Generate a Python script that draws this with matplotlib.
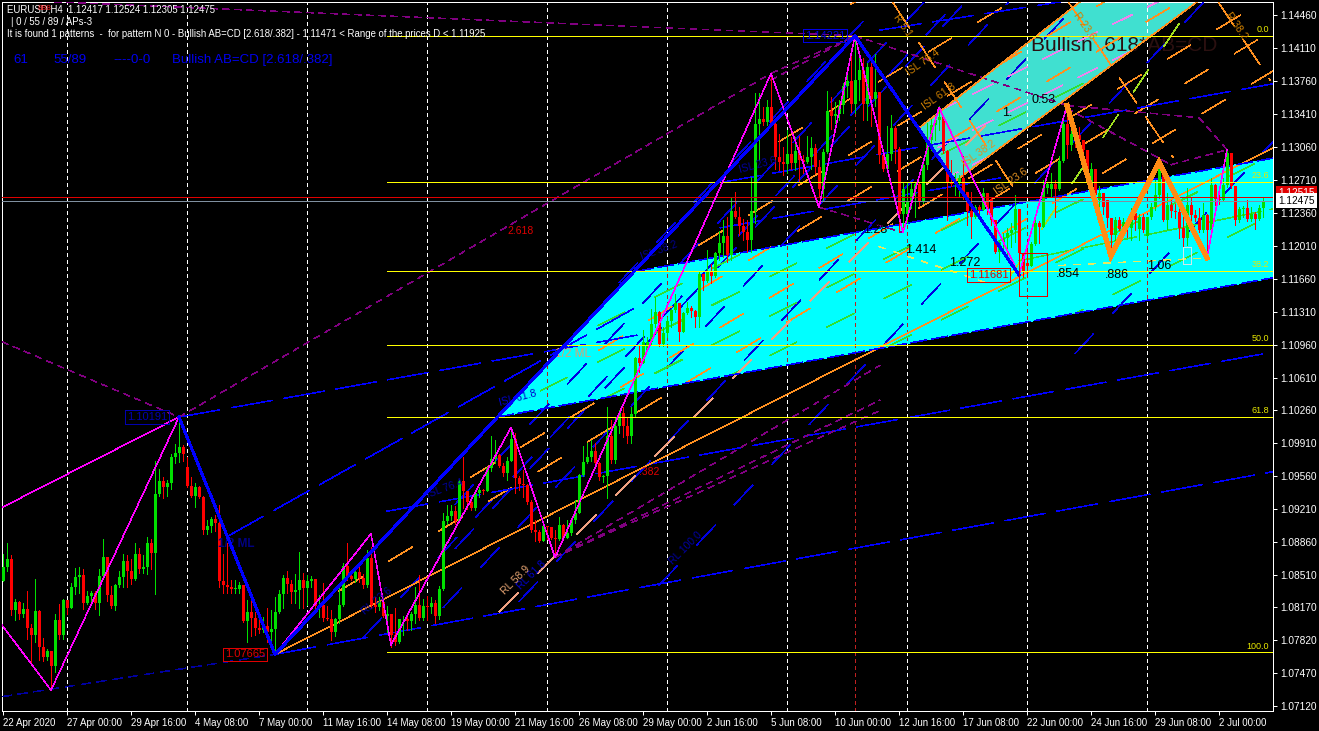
import numpy as np
import matplotlib
matplotlib.use('Agg')
import matplotlib.pyplot as plt
from matplotlib.path import Path
from matplotlib.patches import Polygon, Rectangle

# pips above 1.0700, one row per ten H4 bars
BASE = 1.07
closes_pips = [160,168,114,123,110,115,95,87,113,75,
64,71,55,103,87,125,116,139,149,151,
121,129,132,121,150,170,130,118,141,149,
166,156,147,174,158,160,185,175,237,251,
245,249,277,281,287,280,246,235,245,234,
199,203,211,206,145,141,138,136,136,141,
102,112,106,95,93,97,91,94,112,131,
148,142,133,135,146,137,145,147,118,119,
106,105,91,104,119,161,150,147,154,148,
141,169,119,117,123,108,110,87,80,104,
104,102,110,119,106,118,117,121,108,136,
209,214,219,209,251,241,229,222,238,242,
241,265,275,279,267,260,272,296,254,248,
247,229,199,197,187,203,202,191,189,204,
191,196,210,217,257,271,277,283,270,255,
256,299,273,309,323,309,299,322,382,376,
399,399,418,431,397,408,421,433,440,409,
430,435,432,425,471,464,473,469,493,504,
511,491,538,532,522,516,507,538,630,636,
632,648,630,595,590,588,598,589,602,592,
590,595,605,585,561,601,644,639,641,651,
671,676,652,677,688,652,691,657,664,597,
582,598,626,604,535,561,548,561,567,548,
587,613,629,635,638,602,568,567,569,573,
558,538,531,542,539,557,540,528,494,505,
509,515,518,540,493,474,480,503,525,521,
562,567,567,561,591,630,608,620,619,613,
603,581,583,555,557,542,530,512,528,519,
526,520,530,528,532,518,531,542,555,583,
528,544,538,537,520,509,544,534,530,518,
534,518,566,551,550,565,599,564,528,540,
541,529,535,529,541,548]
highs_pips = [174,185,172,126,124,122,134,99,147,114,
84,73,71,110,120,126,125,143,159,160,
158,134,134,134,158,189,170,140,142,155,
174,173,168,185,180,172,192,189,272,264,
255,252,280,290,319,289,277,255,249,246,
235,210,213,215,226,174,185,146,146,144,
141,125,126,112,103,107,116,114,128,135,
151,155,146,152,176,153,151,150,146,130,
143,118,114,106,137,164,185,156,156,160,
152,178,181,128,128,125,118,110,116,105,
108,107,112,139,151,126,129,128,125,140,
217,226,226,225,252,277,240,231,240,245,
243,266,299,295,280,270,277,308,302,256,
263,248,231,210,199,203,203,202,199,213,
205,210,212,231,259,288,291,295,291,271,
257,330,316,319,327,330,319,330,383,394,
412,404,434,447,432,415,425,434,450,440,
431,441,437,433,473,471,496,482,494,517,
528,532,553,558,542,529,528,574,663,663,
648,656,684,631,620,606,624,617,617,618,
597,618,617,609,592,604,665,659,654,656,
674,689,709,724,700,700,695,695,705,664,
598,628,640,628,606,569,568,569,569,568,
589,631,636,640,649,640,603,592,578,576,
596,558,558,544,544,562,557,553,528,507,
515,520,525,555,539,493,496,505,532,527,
571,569,578,571,596,635,649,624,622,627,
613,603,589,581,564,557,550,530,532,532,
530,530,541,539,535,535,532,546,571,587,
583,557,550,545,542,535,562,553,539,541,
546,535,573,567,560,573,603,599,564,542,
543,550,542,537,544,553]
lows_pips = [145,156,109,103,104,107,83,56,80,61,
60,61,29,48,83,83,110,116,131,132,
115,120,120,115,109,148,124,116,114,138,
138,139,142,146,153,153,152,158,131,235,
233,235,243,270,271,272,245,234,223,233,
195,195,197,198,139,132,132,132,132,132,
101,80,86,88,90,91,80,82,71,111,
116,132,121,121,116,116,119,139,114,107,
102,103,82,86,100,118,146,146,144,144,
137,139,116,112,114,107,91,75,77,79,
88,93,93,100,103,103,103,111,100,105,
135,205,210,205,209,222,221,220,220,234,
237,240,262,270,266,256,252,272,238,242,
234,227,197,187,186,187,190,190,171,188,
189,191,194,207,217,256,270,272,268,252,
250,233,270,270,302,298,291,292,319,367,
376,389,397,415,395,395,404,415,431,400,
409,429,425,415,415,454,463,461,468,486,
489,484,486,530,512,507,494,494,525,592,
629,629,629,583,581,576,578,583,581,569,
578,589,583,578,553,548,599,625,631,635,
642,659,643,642,656,635,635,628,649,589,
580,580,592,589,516,516,525,541,532,543,
546,583,603,613,624,599,528,564,555,553,
551,523,509,530,535,539,535,523,493,484,
495,490,500,505,468,468,468,479,502,504,
521,557,553,532,560,590,594,603,606,596,
596,574,562,550,539,535,521,500,507,518,
514,510,507,518,507,516,509,529,539,552,
527,519,532,530,509,500,502,525,527,516,
516,491,518,544,545,550,563,562,523,526,
532,527,527,519,528,531]
first_open_pips = 145
# bars whose open is not the previous close
gap_opens = {46:266, 161:390, 226:535, 247:551, 256:483, 262:561, 272:564,
             274:550, 276:550, 283:536, 284:519, 286:511}

time_labels = ['22 Apr 2020','27 Apr 00:00','29 Apr 16:00','4 May 08:00','7 May 00:00',
               '11 May 16:00','14 May 08:00','19 May 00:00','21 May 16:00','26 May 08:00',
               '29 May 00:00','2 Jun 16:00','5 Jun 08:00','10 Jun 00:00','12 Jun 16:00',
               '17 Jun 08:00','22 Jun 00:00','24 Jun 16:00','29 Jun 08:00','2 Jul 00:00']
price_ticks = [1.14460,1.14110,1.13760,1.13410,1.13060,1.12710,1.12360,1.12010,1.11660,1.11310,
               1.10960,1.10610,1.10260,1.09910,1.09560,1.09210,1.08860,1.08510,1.08170,1.07820,
               1.07470,1.07120]
separator_bars = [16,46,76,106,136,166,196,226,256,286]

# zigzag pivots (bar, price)
zigzag_bars = [-0.25,12,44,68,92,97,127,138,192,204,213,225,234,254,266]
zigzag_prices = [1.0798,1.0729,1.1019,1.0767,1.0895,1.0777,1.1008,1.0870,1.1384,1.1242,1.1424,1.1215,1.1348,1.1170,1.1350]
abcd_bars = [44,68,213,254]
abcd_prices = [1.1019,1.0767,1.1424,1.1170]
cd_bars = [266,277,289,301]
cd_prices = [1.1350,1.1190,1.1290,1.1188]
last_leg_bars = [301,306]
last_leg_prices = [1.1188,1.1303]

fib_levels = [1.1424,1.1269,1.1174,1.1096,1.1019,1.0769]
fib_names = ['0.0','23.6','38.2','50.0','61.8','100.0']
bid, ask = 1.1249, 1.1253

cyan_bars = [158.5,317.5,317.5,123.5]
cyan_prices = [1.1174,1.1294,1.1167,1.1019]
teal_bars = [229.25,269.25,298.5,238.5]
teal_prices = [1.1327,1.1460,1.1460,1.1271]

# parallel families: price at bar 0, first bar drawn
steep_levels = [1.0461,1.0412,1.0365,1.0316,1.0236,1.0094,0.9867,1.0375]
steep_starts = [154,113,113,110,129,164,268,90]
steep_slope = 0.000455
orange_levels = [1.0917,1.0817,1.0758,1.0710,1.0657,1.0620,1.0577]
orange_starts = [212,194,174,149,117,84,250]
orange_slope = 0.000255
green_levels = [1.0801,1.0762,1.0720,1.0678,1.0625,1.0561]
green_slope = 0.000212
violet_levels = [1.0848,1.0810,1.0773]

# single trend lines: bar0, price0, bar1, price1
purple_lines = [(13,1.1460,213,1.1424),(-0.25,1.1099,44,1.1019),(44,1.1019,192,1.1384),
                (192,1.1384,213,1.1424),(192,1.1377,213,1.1424),(213,1.1424,266,1.1350),
                (204,1.1242,225,1.1215),(266,1.1350,299,1.1337),(299,1.1337,306,1.1303),
                (266,1.1347,292,1.1287),(292,1.1287,306,1.1303),(138,1.0870,219.25,1.1026),
                (138,1.0870,219.25,1.1037),(138,1.0870,219.25,1.1074)]
blue_lines = [(68,1.0767,317.5,1.0961),(96,1.0919,317.5,1.1088),(44,1.1019,158.5,1.1106),
              (179.25,1.1268,317.5,1.1373),(179.25,1.1220,249.25,1.1273),(219.25,1.1430,264.25,1.1460),
              (56,1.0892,159.25,1.1138)]
navy_line = (-0.25,1.0722,68,1.0767)
orange_solid = (68,1.0767,317.5,1.1305)
salmon_line = (124,1.0812,249,1.1343)
cross_lines = [(222.5,1.1459,253.5,1.1257),(266,1.1462,292.5,1.1295),(303.5,1.1462,316.75,1.1377)]
lime_steep = (252,1.1170,298,1.1462)
lime_long = (254,1.1185,317.5,1.1240)
yellow_dash = [(219,1.1200,247,1.1160),(264,1.1180,301,1.1188)]

# rotated study labels: bar, price, text, angle, colour
study_labels = [(124,1.1034,'ISL 61.8',15,'#0000cd'),(106,1.0936,'ISL 76.4',20,'#0000a0'),
                (184,1.1281,'ISL 23.6',15,'#0000a0'),(159.5,1.1189,'ISL 38.2',20,'#000090'),
                (90,1.0811,'RL 23.6',40,'#0000a0'),(129,1.0838,'RL 61.8',45,'#0000cd'),
                (125,1.0832,'RL 58.9',45,'#e0a070'),(167,1.0864,'RL 100.0',45,'#0000a0'),
                (226,1.1384,'ISL 76.4',35,'#d08000'),(230,1.1348,'ISL 61.8',35,'#d08000'),
                (240,1.1287,'ISL 38.2',35,'#e09020'),(248,1.1257,'ISL 23.6',35,'#e09020'),
                (268,1.1448,'R 23.6',-55,'#d08000'),(306,1.1448,'R 38.2',-55,'#d08000'),
                (223,1.1446,'R 5.1',-55,'#d08000')]
ratio_labels = [(249.75,1.1342,'1.'),(257,1.1356,'0.53'),(225.5,1.1196,'1.414'),(236.5,1.1183,'1.272'),
                (263.25,1.1171,'.854'),(275.5,1.1170,'.886'),(286,1.1180,'1.06'),(215,1.1218,'1.28')]

closes = BASE + np.array(closes_pips) / 10000
highs = BASE + np.array(highs_pips) / 10000
lows = BASE + np.array(lows_pips) / 10000
opens = np.r_[BASE + first_open_pips / 10000, closes[:-1]]
for bar, pips in gap_opens.items():
    opens[bar] = BASE + pips / 10000
bars = np.arange(len(closes))

plt.rcParams['lines.scale_dashes'] = False
plt.rcParams['lines.antialiased'] = False
plt.rcParams['patch.antialiased'] = False
plt.rcParams['font.family'] = ['Liberation Sans', 'DejaVu Sans']

fig = plt.figure(figsize=(13.19, 7.31), dpi=100, facecolor='black')
ax = fig.add_axes([2/1319, 20/731, 1271/1319, 709/731], facecolor='black')
ax.set_xlim(-0.25, 317.5)
ax.set_ylim(1.07068, 1.14599)

PX = 0.72  # one screen pixel in points, for level lines
THIN = 0.34  # agg rounds aliased widths up, this gives half a pixel on diagonals

cyan_xy = np.column_stack([cyan_bars, cyan_prices])
teal_xy = np.column_stack([teal_bars, teal_prices])
ax.add_patch(Polygon(cyan_xy, closed=True, facecolor='#00ffff', edgecolor='none', zorder=1))
ax.add_patch(Polygon(teal_xy, closed=True, facecolor='#40e0d0', edgecolor='none', zorder=1))
cyan_path = Path(np.vstack([cyan_xy, cyan_xy[:1]]), closed=True)
teal_path = Path(np.vstack([teal_xy, teal_xy[:1]]), closed=True)
both_path = Path.make_compound_path(cyan_path, teal_path)


def trend(seg, color, dashes=None, lw=THIN, z=3, clip=None):
    line, = ax.plot([seg[0], seg[2]], [seg[1], seg[3]], color=color, lw=lw, zorder=z)
    if dashes:
        line.set_dashes(dashes)
    if clip is not None:
        line.set_clip_path(clip, transform=ax.transData)
    return line


# steep and shallow parallels
for level, start in zip(steep_levels, steep_starts):
    trend((start, level + steep_slope*start, 317.5, level + steep_slope*317.5), '#0000e0', (20, 20))
for level, start in zip(orange_levels, orange_starts):
    trend((start, level + orange_slope*start, 317.5, level + orange_slope*317.5), '#ff9020', (20, 22))
for level in green_levels:
    trend((120, level + green_slope*120, 317.5, level + green_slope*317.5), '#30e030', (22, 24), clip=both_path)
for level in violet_levels:
    trend((225, level + green_slope*225, 300, level + green_slope*300), '#ee82ee', (16, 12), clip=teal_path)

for seg in blue_lines:
    trend(seg, '#0000ff', (30, 8))
trend(navy_line, '#0000a0', (7, 5))
for seg in purple_lines:
    trend(seg, '#800080', (5, 4))
trend(salmon_line, '#f0a080', (20, 20))
for seg in cross_lines:
    trend(seg, '#ff9020', (22, 12))
trend(lime_steep, '#a0e020', (20, 20))
trend(lime_long, '#30e030', (40, 6))
for seg in yellow_dash:
    trend(seg, '#e8e860', (5, 6))
trend(orange_solid, '#ff9020')

# teal and cyan edges
trend((teal_bars[0], teal_prices[0], teal_bars[1], teal_prices[1]), '#ff9020')
trend((teal_bars[3], teal_prices[3], teal_bars[2], teal_prices[2]), '#ff9020')
trend((cyan_bars[0], cyan_prices[0], cyan_bars[1], cyan_prices[1]), '#0000ff', (12, 3))
trend((cyan_bars[3], cyan_prices[3], cyan_bars[2], cyan_prices[2]), '#0000ff', (12, 3))

# period separators
for bar in separator_bars:
    trend((bar, 1.07068, bar, 1.14599), 'white', (2.2, 2.2), lw=PX, z=2.5)
    trend((bar, 1.07068, bar, 1.14599), '#b02020', (2.2, 2.2), lw=PX, z=2.6, clip=cyan_path)
trend((213, 1.07068, 213, 1.1424), '#c02020', (2.5, 2.5), lw=PX, z=2.6)

# candles
up = closes >= opens
ax.vlines(bars[up], lows[up], highs[up], color='#00e000', lw=PX, zorder=4)
ax.vlines(bars[~up], lows[~up], highs[~up], color='#ff0000', lw=PX, zorder=4)
body_low = np.minimum(opens, closes)
body_h = np.maximum(np.abs(closes - opens), 0.0001)
ax.bar(bars[up], body_h[up], bottom=body_low[up], width=0.75, color='#00e000', zorder=4.1)
ax.bar(bars[~up], body_h[~up], bottom=body_low[~up], width=0.75, color='#ff0000', zorder=4.1)

# fib levels, bid and ask
for level, name in zip(fib_levels, fib_names):
    ax.plot([96, 317.5], [level, level], color='#ffff00', lw=PX, zorder=5)
    ax.text(316.5, level + 0.0002, name, color='#e8e800', fontsize=6.5, ha='right', va='bottom', zorder=6)
ax.axhline(ask, color='#e00000', lw=PX, zorder=5)
ax.axhline(bid, color='#8090a0', lw=PX, zorder=5)

# zigzags
ax.plot(zigzag_bars, zigzag_prices, color='#ff00ff', lw=THIN, zorder=6)
ax.plot([-0.25, 44], [1.0923, 1.1019], color='#ff00ff', lw=THIN, zorder=6)
ax.plot(last_leg_bars, last_leg_prices, color='#ff00ff', lw=THIN, zorder=6)
ax.plot(abcd_bars, abcd_prices, color='#0000ff', lw=1.45, zorder=7)
ax.plot(cd_bars, cd_prices, color='#ff8c14', lw=3.0, zorder=7, solid_joinstyle='miter')

ax.add_patch(Rectangle((254, 1.1148), 7, 0.0045, fill=False, edgecolor='#e00000', lw=PX, zorder=7))
ax.add_patch(Rectangle((295, 1.1182), 2, 0.0018, fill=False, edgecolor='#d0e8e8', lw=PX, zorder=7))

# labels on the chart
for bar, price, text, angle, color in study_labels:
    ax.text(bar, price, text, color=color, fontsize=7.5, rotation=angle, rotation_mode='anchor',
            ha='left', va='center', zorder=6)
ax.text(53.75, 1.0884, '1/2 ML', color='#000080', fontsize=8.5, fontweight='bold', va='center', zorder=6)
ax.text(138, 1.1086, '1/2 ML', color='#e0a070', fontsize=8.5, va='center', zorder=6)
ax.text(159, 1.0961, '.382', color='#e00000', fontsize=7.5, va='center', zorder=6)
ax.text(126, 1.1217, '2.618', color='#e00000', fontsize=7.5, va='center', zorder=6)
for bar, price, text in ratio_labels:
    ax.text(bar, price, text, color='black', fontsize=9, va='center', zorder=8)
ax.text(257, 1.1414, 'Bullish .618*AB=CD', color='#2b1010', fontsize=15, va='center', zorder=2)

for bar, price, text, color in [(31, 1.1019, '1.10191', '#0000b0'), (55.5, 1.0767, '1.07665', '#e00000'),
                                (200.5, 1.1424, '1.14221', '#0000e0'), (241.5, 1.1170, '1.11681', '#e00000')]:
    ax.text(bar, price, text, color=color, fontsize=8, va='center', zorder=8,
            bbox=dict(facecolor='none', edgecolor=color, lw=PX, pad=1.2))

# header
header = dict(transform=fig.transFigure, zorder=10, color='white', fontsize=6.9)
ax.text(7/1319, 1 - 9/731, 'EURUSD,H4  1.12417 1.12524 1.12305 1.12475', va='center', **header)
ax.text(38/1319, 1 - 8/731, '888', va='center', transform=fig.transFigure, color='#ff2020', fontsize=6, zorder=10)
ax.text(11/1319, 1 - 22/731, '| 0 / 55 / 89 / APs-3', va='center', **header)
ax.text(7/1319, 1 - 34/731, 'It is found 1 patterns  -  for pattern N 0 - Bullish AB=CD [2.618/.382] - 1.11471 < Range of the prices D < 1.11925',
        va='center', **header)
for left, text in [(13, '61'), (53, '55/89'), (113, '----0-0'), (172, 'Bullish AB=CD [2.618/.382]')]:
    ax.text(left/1319, 1 - 60/731, text, transform=fig.transFigure, color='#0000f0', fontsize=9.5,
            va='center', zorder=10)

# scales
for spine in ax.spines.values():
    spine.set_color('white')
    spine.set_linewidth(PX)
ax.yaxis.tick_right()
ax.set_yticks(price_ticks)
ax.set_yticklabels(['%.5f' % t for t in price_ticks])
ax.set_xticks(np.arange(len(time_labels)) * 16)
ax.set_xticklabels(time_labels, ha='left')
ax.tick_params(axis='y', colors='white', labelsize=7.3, length=3, width=PX, pad=2)
ax.tick_params(axis='x', colors='white', labelsize=7, length=3, width=PX, pad=2)

ax.text(1.004, ask + 0.0004, '1.12515', transform=ax.get_yaxis_transform(), color='white', fontsize=7.3, va='center',
        bbox=dict(facecolor='#e00000', edgecolor='none', pad=1.5), zorder=11, clip_on=False)
ax.text(1.004, bid, '1.12475', transform=ax.get_yaxis_transform(), color='black', fontsize=7.3, va='center',
        bbox=dict(facecolor='white', edgecolor='none', pad=1.5), zorder=12, clip_on=False)

fig.savefig('out.png', dpi=100, facecolor='black')
